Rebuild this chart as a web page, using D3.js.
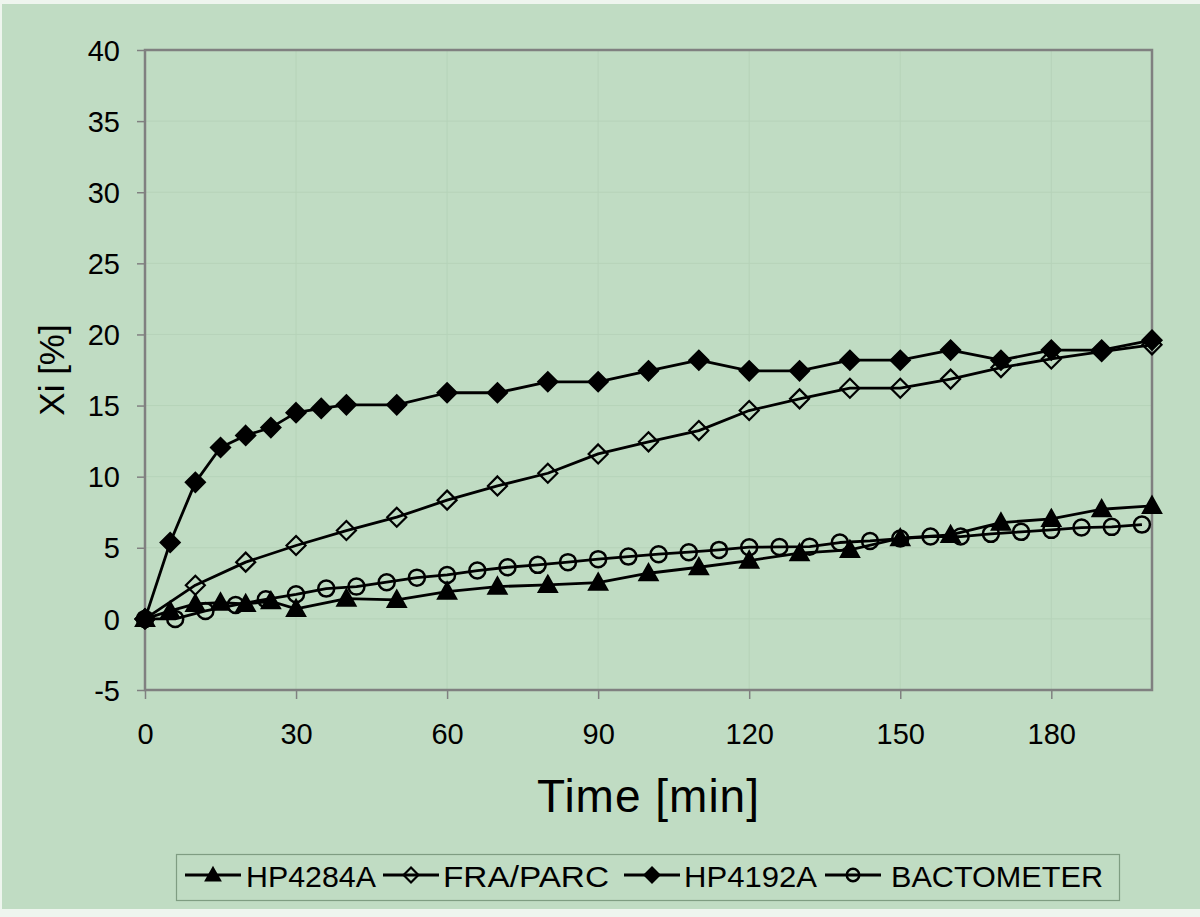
<!DOCTYPE html>
<html>
<head>
<meta charset="utf-8">
<script src="https://cdn.jsdelivr.net/npm/d3@7"></script>
<style>
  html, body { margin: 0; padding: 0; background: #eef5ee; }
  svg { display: block; }
  text { font-family: "Liberation Sans", Arial, sans-serif; fill: #000; }
</style>
</head>
<body>
<svg id="chart" width="1200" height="917"></svg>
<script>
// ---- data ----
const timeHP4284A = [0,5,10,15,20,25,30,40,50,60,70,80,90,100,110,120,130,140,150,160,170,180,190,200];
const valHP4284A  = [0,0.56,1.05,1.15,1.05,1.24,0.7,1.43,1.34,1.92,2.27,2.39,2.55,3.21,3.63,4.1,4.62,4.85,5.67,5.9,6.77,7.03,7.71,7.95];

const timeFRA = [0,10,20,30,40,50,60,70,80,90,100,110,120,130,140,150,160,170,180,190,200];
const valFRA  = [0,2.37,3.99,5.16,6.21,7.15,8.35,9.35,10.24,11.6,12.45,13.24,14.65,15.47,16.22,16.22,16.86,17.67,18.28,18.8,19.27];

const timeHP4192A = [0,5,10,15,20,25,30,35,40,50,60,70,80,90,100,110,120,130,140,150,160,170,180,190,200];
const valHP4192A  = [0,5.37,9.6,12.05,12.9,13.45,14.5,14.8,15.05,15.05,15.9,15.9,16.67,16.67,17.44,18.19,17.44,17.44,18.19,18.19,18.9,18.19,18.9,18.9,19.6];

const timeBACT = [0,6,12,18,24,30,36,42,48,54,60,66,72,78,84,90,96,102,108,114,120,126,132,138,144,150,156,162,168,174,180,186,192,198];
const valBACT  = [0,0,0.56,0.98,1.38,1.73,2.13,2.27,2.58,2.9,3.09,3.4,3.63,3.8,3.99,4.2,4.38,4.55,4.69,4.85,5.04,5.06,5.08,5.37,5.48,5.65,5.79,5.79,5.98,6.12,6.26,6.42,6.47,6.63];

const seriesNames = ["HP4284A", "FRA/PARC", "HP4192A", "BACTOMETER"];
const xTicks = [0,30,60,90,120,150,180];
const yTicks = [-5,0,5,10,15,20,25,30,35,40];
const xTitle = "Time [min]";
const yTitle = "Xi [%]";

// ---- setup ----
const svg = d3.select("#chart");
const bg = "#c0dcc3";
svg.append("rect").attr("x", 2).attr("y", 4).attr("width", 1198).attr("height", 905).attr("fill", bg);

const x = d3.scaleLinear().domain([0, 200]).range([145, 1152]);
const y = d3.scaleLinear().domain([-5, 40]).range([690, 50]);
const fmt = d => String(d);

// gridlines
const grid = svg.append("g");
grid.selectAll("line.h").data(yTicks.filter(v => v > -5 && v < 40)).join("line")
  .attr("x1", x(0)).attr("x2", x(200)).attr("y1", d => y(d)).attr("y2", d => y(d))
  .attr("stroke", "#b6d3b9").attr("stroke-width", 1);
grid.selectAll("line.v").data(xTicks.filter(v => v > 0)).join("line")
  .attr("y1", y(-5)).attr("y2", y(40)).attr("x1", d => x(d)).attr("x2", d => x(d))
  .attr("stroke", "#b6d3b9").attr("stroke-width", 1);

// axes
const yAxis = d3.axisLeft(y).tickValues(yTicks).tickSize(8).tickPadding(17).tickFormat(fmt);
const gy = svg.append("g").attr("transform", `translate(${x(0)},0)`).call(yAxis);
gy.select(".domain").remove();
gy.selectAll("line").attr("stroke", "#808080").attr("stroke-width", 1.5);
gy.selectAll("text").attr("font-size", 29).attr("font-family", "Liberation Sans, Arial, sans-serif").attr("dy", "0.35em");

const xAxis = d3.axisBottom(x).tickValues(xTicks).tickSize(9).tickPadding(24).tickFormat(fmt);
const gx = svg.append("g").attr("transform", `translate(0,${y(-5)})`).call(xAxis);
gx.select(".domain").remove();
gx.selectAll("line").attr("stroke", "#808080").attr("stroke-width", 1.5);
gx.selectAll("text").attr("font-size", 29).attr("font-family", "Liberation Sans, Arial, sans-serif");

// plot frame
svg.append("rect").attr("x", x(0)).attr("y", y(40)).attr("width", x(200) - x(0)).attr("height", y(-5) - y(40))
  .attr("fill", "none").attr("stroke", "#808080").attr("stroke-width", 2.5);

// titles
svg.append("text").attr("x", (x(0) + x(200)) / 2).attr("y", 812).attr("text-anchor", "middle")
  .attr("font-size", 46).attr("letter-spacing", 1).text(xTitle);
svg.append("text").attr("transform", `translate(64,370) rotate(-90)`).attr("text-anchor", "middle")
  .attr("font-size", 35).text(yTitle);

// marker shapes
function markerPath(type, s) {
  if (type === "tri") return `M0,${-9*s}L${9*s},${7*s}L${-9*s},${7*s}Z`;
  if (type === "dia") return `M0,${-9.5*s}L${9.5*s},0L0,${9.5*s}L${-9.5*s},0Z`;
  return null;
}
const series = [
  { name: seriesNames[0], t: timeHP4284A, v: valHP4284A, marker: "tri", fill: "#000" },
  { name: seriesNames[1], t: timeFRA, v: valFRA, marker: "dia", fill: "none" },
  { name: seriesNames[2], t: timeHP4192A, v: valHP4192A, marker: "dia", fill: "#000" },
  { name: seriesNames[3], t: timeBACT, v: valBACT, marker: "circ", fill: "none" }
];

const line = d3.line().x(d => x(d[0])).y(d => y(d[1]));

function drawMarker(g, type, fill, s) {
  if (type === "circ") {
    g.append("circle").attr("r", 8 * s).attr("fill", fill).attr("stroke", "#000").attr("stroke-width", 2.5);
  } else {
    g.append("path").attr("d", markerPath(type, s)).attr("fill", fill).attr("stroke", "#000")
      .attr("stroke-width", 2.2).attr("stroke-linejoin", "miter");
  }
}

series.forEach(sr => {
  const pts = sr.t.map((t, i) => [t, sr.v[i]]);
  const g = svg.append("g");
  g.append("path").attr("d", line(pts)).attr("fill", "none").attr("stroke", "#000").attr("stroke-width", 2.8)
    .attr("stroke-linejoin", "round");
  pts.forEach(p => {
    const mg = g.append("g").attr("transform", `translate(${x(p[0])},${y(p[1])})`);
    drawMarker(mg, sr.marker, sr.fill, 1);
  });
});

// legend
svg.append("rect").attr("x", 176.5).attr("y", 854.5).attr("width", 943).attr("height", 46)
  .attr("fill", bg).attr("stroke", "#7f9d82").attr("stroke-width", 1.2);
const legendPos = [
  { lx: 185, tx: 246, w: 130 },
  { lx: 383, tx: 443, w: 166 },
  { lx: 624, tx: 684, w: 133 },
  { lx: 825, tx: 891, w: 212 }
];
series.forEach((sr, i) => {
  const p = legendPos[i];
  const g = svg.append("g");
  g.append("line").attr("x1", p.lx).attr("x2", p.lx + 56).attr("y1", 875).attr("y2", 875)
    .attr("stroke", "#000").attr("stroke-width", 2.8);
  const mg = g.append("g").attr("transform", `translate(${p.lx + 28},875)`);
  drawMarker(mg, sr.marker, sr.fill, 0.78);
  g.append("text").attr("x", p.tx).attr("y", 887).attr("font-size", 30)
    .attr("textLength", p.w).attr("lengthAdjust", "spacingAndGlyphs").text(sr.name);
});
</script>
</body>
</html>
